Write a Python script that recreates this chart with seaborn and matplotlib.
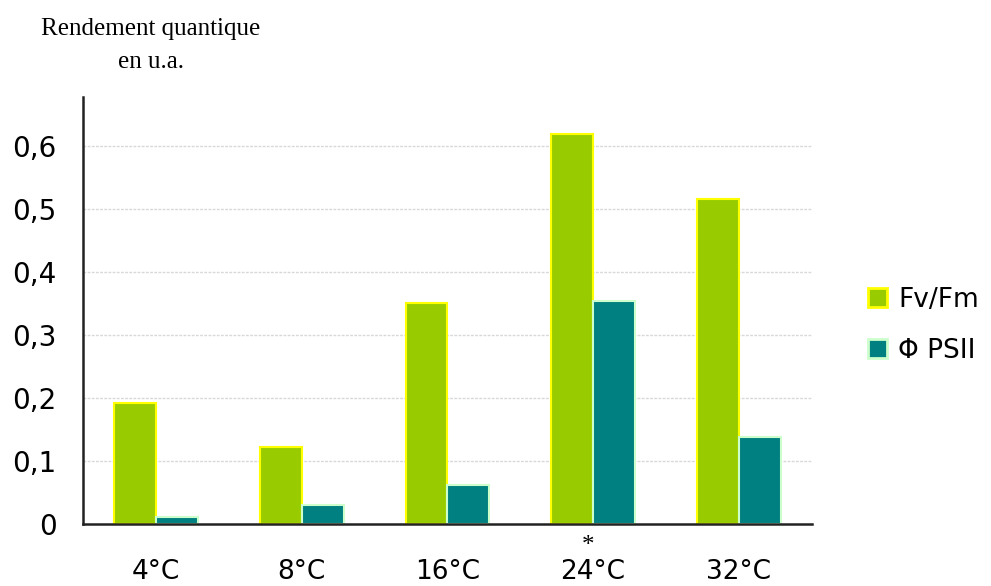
import matplotlib

matplotlib.use("Agg")
import matplotlib.pyplot as plt
import pandas as pd
import seaborn as sns
from matplotlib.patches import Patch

# Values
temperatures = ["4°C", "8°C", "16°C", "24°C", "32°C"]
fv_fm = [0.192, 0.122, 0.351, 0.620, 0.517]
phi_psii = [0.011, 0.030, 0.062, 0.354, 0.138]
series_names = ["Fv/Fm", "Φ PSII"]
y_ticks = [0, 0.1, 0.2, 0.3, 0.4, 0.5, 0.6]
y_tick_labels = ["0", "0,1", "0,2", "0,3", "0,4", "0,5", "0,6"]

FILL = ["#99CC00", "#008080"]
EDGE = ["#FFFF00", "#CCFFCC"]

df = pd.DataFrame(
    {
        "temperature": temperatures * 2,
        "value": fv_fm + phi_psii,
        "series": [series_names[0]] * len(temperatures) + [series_names[1]] * len(temperatures),
    }
)

sns.set_style("white")
plt.rcParams["text.color"] = "black"
plt.rcParams["xtick.color"] = "black"
plt.rcParams["ytick.color"] = "black"

fig = plt.figure(figsize=(9.91, 5.86), dpi=100)
ax = fig.add_axes([0.084, 0.106, 0.735, 0.728])

sns.barplot(
    data=df,
    x="temperature",
    y="value",
    hue="series",
    order=temperatures,
    hue_order=series_names,
    palette=FILL,
    saturation=1,
    width=0.575,
    gap=0,
    legend=False,
    ax=ax,
)
for container, edge in zip(ax.containers, EDGE):
    for bar in container:
        bar.set_edgecolor(edge)
        bar.set_linewidth(1.5)

ax.set_xlim(-0.5, len(temperatures) - 0.5)
ax.set_ylim(0, 0.678)
ax.set_yticks(y_ticks)
ax.set_yticklabels(y_tick_labels, fontsize=20, family="DejaVu Sans")
ax.set_xticks(range(len(temperatures)))
ax.set_xticklabels(temperatures, fontsize=19, family="DejaVu Sans")
ax.set_xticks([i - 0.5 for i in range(len(temperatures) + 1)], minor=True)
ax.tick_params(axis="x", which="major", length=0, pad=25)
ax.tick_params(axis="x", which="minor", length=9, width=1.5, direction="out", color="#222222")
ax.tick_params(axis="y", length=6, width=1.2, direction="out", color="#222222", pad=13)
ax.set_xlabel("")
ax.set_ylabel("")

for val in y_ticks[1:]:
    ax.axhline(val, color="#D8D8D8", linewidth=1, linestyle=(0, (2, 1)), zorder=0)
ax.set_axisbelow(True)

for side in ["top", "right"]:
    ax.spines[side].set_visible(False)
for side in ["left", "bottom"]:
    ax.spines[side].set_color("#222222")
    ax.spines[side].set_linewidth(1.8)

# asterisk above the 24°C label
ax.annotate(
    "*",
    xy=(temperatures.index("24°C"), 0),
    xytext=(-4, -16),
    textcoords="offset points",
    ha="center",
    va="center",
    fontsize=18,
    family="Liberation Serif",
    annotation_clip=False,
)

fig.text(
    0.152,
    0.922,
    "Rendement quantique\nen u.a.",
    ha="center",
    va="center",
    fontsize=18,
    family="Liberation Serif",
    linespacing=1.65,
)

handles = [
    Patch(facecolor=FILL[i], edgecolor=EDGE[i], linewidth=2, label=series_names[i])
    for i in range(len(series_names))
]
fig.legend(
    handles=handles,
    loc="center left",
    bbox_to_anchor=(0.852, 0.445),
    frameon=False,
    fontsize=19,
    handlelength=0.7,
    handleheight=0.7,
    handletextpad=0.45,
    labelspacing=0.95,
)

fig.savefig("out.png", dpi=100)
